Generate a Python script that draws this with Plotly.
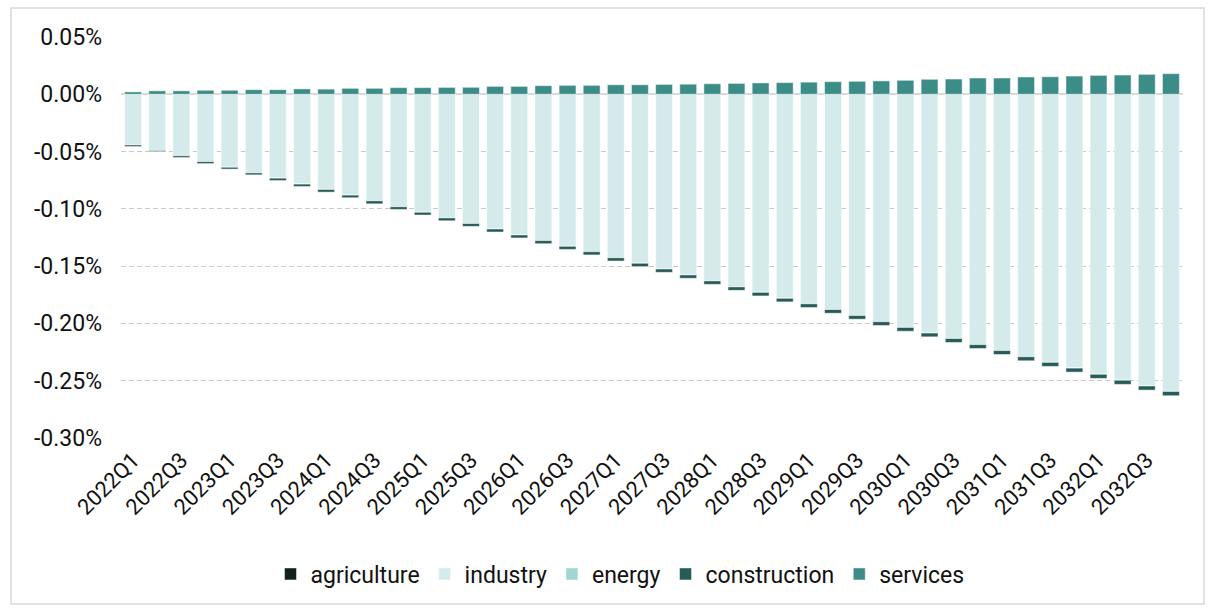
import plotly.graph_objects as go

quarters = [f"{y}Q{q}" for y in range(2022, 2033) for q in range(1, 5)]

# total negative bottom (industry + energy + construction + agriculture), % points
total_neg = [0.0456, 0.0500, 0.0552, 0.0605, 0.0653, 0.0703, 0.0753, 0.0805, 0.0854, 0.0903,
             0.0956, 0.1005, 0.1054, 0.1104, 0.1153, 0.1202, 0.1254, 0.1304, 0.1354, 0.1402,
             0.1455, 0.1504, 0.1554, 0.1606, 0.1659, 0.1711, 0.1760, 0.1812, 0.1861, 0.1911,
             0.1963, 0.2018, 0.2068, 0.2117, 0.2166, 0.2219, 0.2271, 0.2326, 0.2375, 0.2425,
             0.2480, 0.2532, 0.2582, 0.2631]

construction = [-0.0014, -0.0009, -0.0015, -0.0017, -0.0016, -0.0017, -0.0021, -0.0021, -0.0023, -0.0023,
                -0.0026, -0.0023, -0.0024, -0.0025, -0.0025, -0.0026, -0.0026, -0.0027, -0.0027, -0.0028,
                -0.0028, -0.0029, -0.0029, -0.0029, -0.0030, -0.0030, -0.0031, -0.0031, -0.0032, -0.0032,
                -0.0032, -0.0033, -0.0033, -0.0033, -0.0034, -0.0034, -0.0034, -0.0035, -0.0035, -0.0035,
                -0.0036, -0.0036, -0.0036, -0.0037]

agriculture = [-0.0001] * 44
energy = [-0.0001] * 44

industry = [round(-t - c - a - e, 4) for t, c, a, e in zip(total_neg, construction, agriculture, energy)]

services = [0.0021, 0.0030, 0.0030, 0.0035, 0.0035, 0.0040, 0.0040, 0.0047, 0.0045, 0.0052,
            0.0052, 0.0058, 0.0058, 0.0060, 0.0061, 0.0069, 0.0069, 0.0075, 0.0078, 0.0078,
            0.0083, 0.0083, 0.0086, 0.0088, 0.0092, 0.0095, 0.0099, 0.0102, 0.0106, 0.0110,
            0.0113, 0.0117, 0.0122, 0.0131, 0.0133, 0.0142, 0.0142, 0.0151, 0.0153, 0.0159,
            0.0165, 0.0168, 0.0174, 0.0180]

series = [
    ("agriculture", agriculture, "#12201f"),
    ("industry", industry, "#d5ebeb"),
    ("energy", energy, "#a0d6d4"),
    ("construction", construction, "#275b58"),
    ("services", services, "#3c8d88"),
]

y_tickvals = [0.05, 0.0, -0.05, -0.10, -0.15, -0.20, -0.25, -0.30]
y_ticktext = ["0.05%", "0.00%", "-0.05%", "-0.10%", "-0.15%", "-0.20%", "-0.25%", "-0.30%"]
x_tickvals = quarters[::2]

FONT = "Roboto"
FS = 23

fig = go.Figure()
for name, vals, col in series:
    fig.add_trace(go.Bar(
        x=quarters, y=vals, name=name,
        marker=dict(color=col, line=dict(color="rgba(255,255,255,0.6)", width=0.8)),
    ))

W, H = 1211, 609
L, R, T, B = 121, 28, 37, 171
pw, ph = W - L - R, H - T - B

def px_x(px):
    return (px - L) / pw

def px_y(py):
    return (H - B - py) / ph

fig.update_layout(
    width=W, height=H,
    margin=dict(l=L, r=R, t=T, b=B),
    barmode="relative",
    bargap=0.3,
    plot_bgcolor="white",
    paper_bgcolor="white",
    font=dict(family=FONT, size=FS, color="#111111"),
    legend=dict(
        orientation="h", x=px_x(620), xanchor="center", y=px_y(574), yanchor="middle",
        font=dict(family=FONT, size=FS, color="#111111"),
        traceorder="normal", itemclick=False,
    ),
    xaxis=dict(
        type="category", tickmode="array", tickvals=x_tickvals, ticktext=x_tickvals,
        tickangle=-45, showgrid=False, zeroline=False, showline=False, ticks="",
        ticklabelstandoff=4,
        tickfont=dict(family=FONT, size=FS - 1, color="#111111"),
    ),
    yaxis=dict(
        range=[-0.30, 0.05], tickmode="array", tickvals=y_tickvals, ticktext=y_ticktext,
        showgrid=True, gridcolor="#c8c8c8", griddash="5px,3px", gridwidth=1,
        zeroline=True, zerolinecolor="#d9d9d9", zerolinewidth=2,
        showline=False, ticks="", ticklabelstandoff=18,
        tickfont=dict(family=FONT, size=FS, color="#111111"),
    ),
    shapes=[dict(
        type="rect", xref="paper", yref="paper",
        x0=px_x(11), x1=px_x(1204), y0=px_y(8), y1=px_y(604),
        line=dict(color="#d9d9d9", width=1.5), fillcolor="rgba(0,0,0,0)", layer="below",
    )],
)

fig.write_html(
    "out.html",
    config={"displayModeBar": False},
    post_script="document.body.style.margin='0';document.body.style.overflow='hidden';",
)
